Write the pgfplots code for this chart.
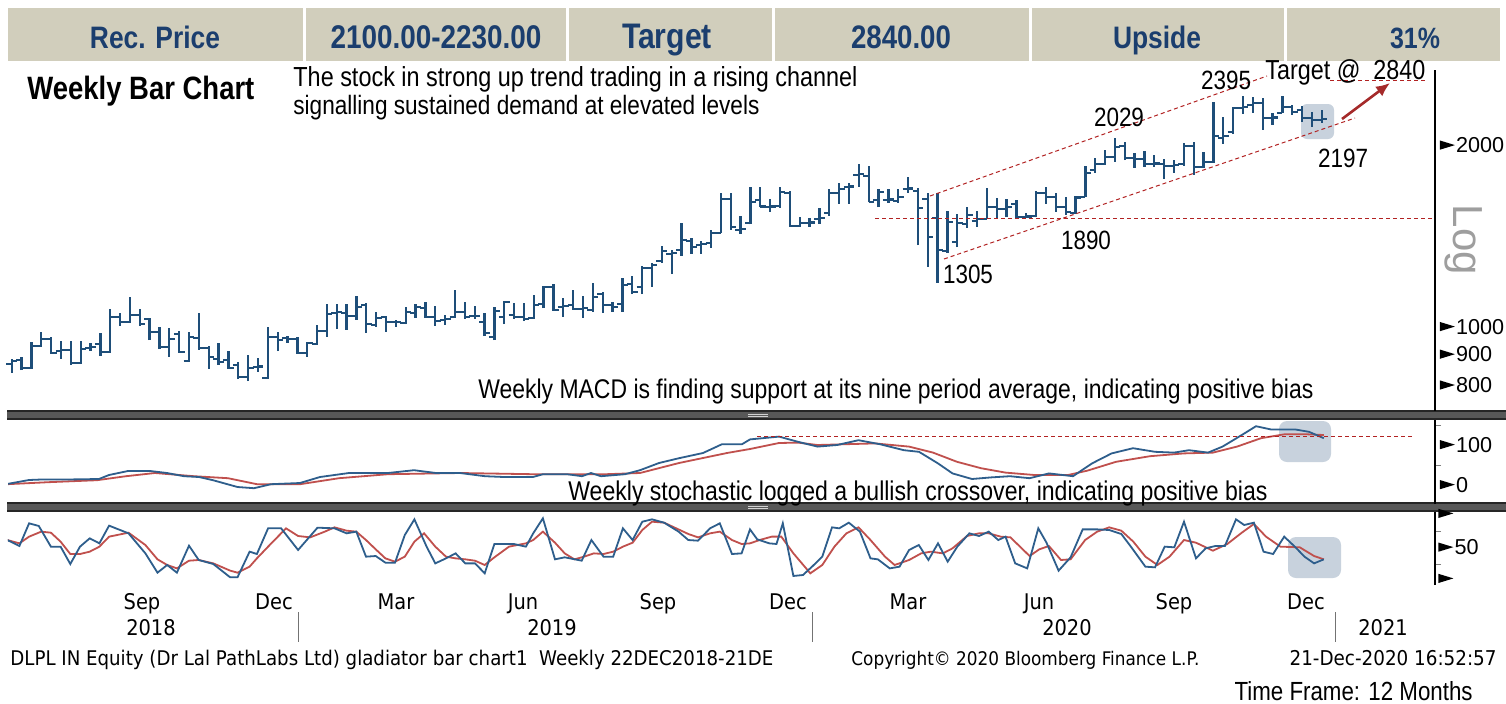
\documentclass[border=0pt]{standalone}
\usepackage{pgfplots}
\pgfplotsset{compat=1.18}
\usepackage{pgfplotstable}
\usetikzlibrary{arrows.meta}
\usepackage{graphicx}
\usepackage{fontspec}
\setmainfont{Liberation Sans}
\newfontfamily\narrow{Liberation Sans}[FakeStretch=0.85]
\newfontfamily\tah{DejaVu Sans}[FakeStretch=0.9]
\newdimen\pxu \pxu=0.5pt
\newcommand\rs[2]{\resizebox{#1\pxu}{!}{#2}}
\definecolor{hdrfill}{RGB}{209,206,188}
\definecolor{hdrtext}{RGB}{27,62,110}
\definecolor{barblue}{RGB}{30,78,121}
\definecolor{lineblue}{RGB}{46,94,140}
\definecolor{linered}{RGB}{192,80,77}
\definecolor{annred}{RGB}{178,34,34}
\definecolor{arrred}{RGB}{165,42,42}
\definecolor{boxshade}{RGB}{200,210,221}
\definecolor{sepgray}{RGB}{88,88,88}
\newcommand\tri{\tikz[baseline=0pt]\fill[black] (0,1.6pt)--(0,6.2pt)--(7.5pt,3.9pt)--cycle;\hspace{0.6pt}}
\pgfdeclareplotmark{nomark}{}
\pgfdeclareplotmark{otick}{\pgfpathmoveto{\pgfqpoint{-\pgfplotmarksize}{0pt}}\pgfpathlineto{\pgfqpoint{0pt}{0pt}}\pgfusepathqstroke}
\pgfdeclareplotmark{ctick}{\pgfpathmoveto{\pgfqpoint{0pt}{0pt}}\pgfpathlineto{\pgfqpoint{\pgfplotmarksize}{0pt}}\pgfusepathqstroke}
\pgfplotsset{panel/.style={anchor=north west, scale only axis, width=713.5pt, xmin=8, xmax=1435,
  axis x line=none, axis y line*=right, y axis line style={line width=0.75pt},
  major y tick style={draw=none}, minor tick length=3pt, tick align=outside,
  yticklabel style={anchor=west, inner sep=0pt, xshift=-2pt, font=\fontsize{10.8}{12}\selectfont}}}
\pgfplotstableread{
i o h l c
0 868 885 839 878
1 882 892 848 855
2 855 944 852 931
3 931 981 927 955
4 955 963 902 906
5 912 948 885 916
6 916 948 865 871
7 871 948 868 919
8 923 941 912 927
9 938 978 895 909
10 909 1071 906 1039
11 1039 1055 1004 1019
12 1019 1121 1015 1047
13 1047 1071 1004 1011
14 1031 1035 951 981
15 981 1000 919 927
16 927 996 892 955
17 974 985 906 909
18 878 981 875 963
19 959 1055 916 923
20 923 930 852 892
21 885 941 865 875
22 882 912 852 855
23 865 875 819 826
24 826 899 813 855
25 858 888 842 860
26 822 1000 820 963
27 963 981 912 951
28 959 966 941 955
29 955 963 902 906
30 906 944 892 941
31 938 1008 934 985
32 985 1091 963 1051
33 1055 1091 992 1059
34 1055 1091 989 1043
35 1043 1125 1027 1079
36 1087 1095 978 1011
37 1008 1059 1000 1035
38 1039 1043 981 1019
39 1019 1027 1000 1019
40 1015 1079 1011 1059
41 1055 1091 1035 1079
42 1075 1100 1035 1039
43 1039 1083 1004 1023
44 1027 1047 1008 1031
45 1039 1152 1035 1059
46 1059 1100 1031 1039
47 1043 1083 1031 1043
48 1019 1055 966 978
49 963 1079 951 1063
50 1039 1104 1011 1100
51 1047 1096 1031 1039
52 1039 1096 1023 1031
53 1035 1130 1032 1087
54 1091 1169 1075 1165
55 1165 1177 1063 1067
56 1079 1117 1039 1083
57 1087 1152 1068 1071
58 1071 1125 1035 1075
59 1067 1183 1059 1121
60 1134 1142 1055 1087
61 1087 1100 1059 1079
62 1091 1206 1059 1174
63 1177 1215 1134 1143
64 1165 1263 1134 1253
65 1253 1277 1165 1268
66 1287 1362 1277 1337
67 1322 1340 1224 1325
68 1342 1487 1312 1394
69 1389 1405 1322 1357
70 1367 1389 1322 1373
71 1378 1449 1352 1433
72 1433 1668 1430 1631
73 1631 1668 1449 1465
74 1449 1528 1427 1454
75 1487 1707 1480 1612
76 1624 1707 1581 1584
77 1581 1631 1552 1584
78 1587 1707 1578 1675
79 1668 1680 1465 1471
80 1471 1522 1465 1487
81 1487 1517 1465 1490
82 1511 1575 1483 1517
83 1546 1694 1528 1668
84 1668 1733 1600 1694
85 1707 1733 1600 1710
86 1788 1864 1707 1792
87 1781 1850 1609 1612
88 1624 1694 1581 1675
89 1624 1694 1606 1627
90 1618 1694 1606 1643
91 1694 1774 1668 1697
92 1681 1700 1367 1575
93 1631 1668 1258 1410
94 1517 1668 1183 1342
95 1337 1558 1327 1494
96 1384 1540 1357 1487
97 1483 1581 1460 1534
98 1500 1558 1465 1511
99 1511 1701 1508 1581
100 1581 1637 1511 1569
101 1569 1631 1522 1581
102 1600 1624 1511 1522
103 1522 1546 1515 1525
104 1528 1681 1520 1668
105 1668 1707 1600 1643
106 1643 1668 1552 1581
107 1581 1643 1534 1552
108 1546 1646 1540 1640
109 1643 1850 1640 1801
110 1822 1907 1801 1864
111 1864 1966 1857 1914
112 1914 2058 1878 1989
113 1997 2027 1892 1907
114 1907 1944 1836 1900
115 1900 1958 1843 1864
116 1864 1929 1843 1867
117 1864 1900 1760 1850
118 1850 1892 1801 1857
119 1864 2019 1850 1997
120 1997 2027 1788 1843
121 1843 1951 1836 1878
122 1878 2362 1871 2074
123 2058 2230 2012 2074
124 2106 2317 2090 2308
125 2308 2417 2256 2317
126 2335 2408 2265 2353
127 2353 2399 2122 2221
128 2221 2265 2163 2224
129 2265 2417 2260 2317
130 2317 2335 2247 2273
131 2290 2326 2188 2221
132 2221 2273 2147 2205
133 2205 2290 2180 2213
}\bars
\begin{document}
\begin{tikzpicture}
\begin{scope}[x=0.5pt,y=-0.5pt]
\path[use as bounding box] (0,0) rectangle (1506,703);
\fill[white] (0,0) rectangle (1506,703);
\foreach \a/\b in {8/303,306/566,569/772,775/1029,1032/1284,1287/1500}{\fill[hdrfill] (\a,8) rectangle (\b,61);}
\fill[boxshade, rounded corners=3pt] (1301,104) rectangle (1334,139);
\fill[boxshade, rounded corners=4pt] (1279,421) rectangle (1331,462);
\fill[boxshade, rounded corners=4pt] (1288,537) rectangle (1341,578);
\foreach \yy in {411,503}{
  \fill[sepgray] (7,\yy) rectangle (1506,\yy+8);
  \draw[black!85, line width=0.6pt] (7,\yy) -- (1506,\yy);
  \draw[black!85, line width=0.6pt] (7,\yy+8) -- (1506,\yy+8);
  \draw[gray!35, line width=0.4pt] (748,\yy+3) -- (768,\yy+3) (748,\yy+5) -- (768,\yy+5);
}
\end{scope}

% main price panel
\begin{axis}[panel, at={(4pt,-35pt)}, height=170.5pt, ymode=log, ymin=725.6, ymax=2668,
  ytick={800,900,1000,2000}, yticklabels={\tri800,\tri900,\tri1000,\tri2000}]
\addplot[barblue, line width=1.15pt, only marks, mark=nomark,
  error bars/.cd, y dir=plus, y explicit, error mark=none,
  error bar style={line width=1.15pt, barblue}]
  table[x expr={11.7+9.85*\thisrow{i}}, y=l, y error expr={\thisrow{h}-\thisrow{l}}] {\bars};
\addplot[barblue, line width=1.15pt, only marks, mark=otick, mark size=2.7pt]
  table[x expr={11.7+9.85*\thisrow{i}}, y=o] {\bars};
\addplot[barblue, line width=1.15pt, only marks, mark=ctick, mark size=2.7pt]
  table[x expr={11.7+9.85*\thisrow{i}}, y=c] {\bars};
\end{axis}

% MACD panel
\begin{axis}[panel, at={(4pt,-210pt)}, height=42pt, ymin=-47.5, ymax=162.5,
  ytick={0,100}, yticklabels={\tri0,\tri100}, minor ytick={50,150}]
\addplot[linered, line width=0.9pt] coordinates {(7,2)(48,7)(97,12)(126,22)(155,30)(194,22)(228,17)(257,2)(300,2)(339,17)(388,27)(460,30)(533,27)(606,27)(640,30)(679,55)(727,80)(750,90)(779,105)(798,106)(817.5,100)(846,102)(875,104)(909,96)(933,81)(957,58)(981,42)(1005.5,31)(1034.5,25)(1068,25)(1087.5,36)(1116,58)(1150,72)(1184,79)(1213,81)(1237,96)(1261,117)(1285,127)(1304.5,127)(1323.8,125)};
\addplot[lineblue, line width=0.9pt] coordinates {(7,2.5)(29,12.5)(44,14)(73,14)(99,15)(109,25)(128,35)(150,35)(167,30)(184,22)(199,20)(213,12)(237.5,-5)(254,-8)(271,2)(300,5)(320,20)(349,30)(388,30)(414,37)(436,30)(460,30)(485,22)(504,20)(533,20)(543,27)(567,27)(582,22)(591,30)(601,22)(625,27)(640,37)(659,55)(679,67)(703,80)(722,102)(742,102)(750,114)(779,121)(798,108)(817.5,96)(837,100)(858.5,112)(880,102)(904,87)(919,83)(938,54)(952.5,29)(972,15)(991,19)(1010,22)(1029.6,17)(1049,29)(1073,22)(1092,54)(1111.6,79)(1133,92)(1155,83)(1174,81)(1189,87)(1208,81)(1222.5,96)(1241.8,125)(1256,147)(1270.7,139)(1294.8,139)(1309,133)(1323.8,117)};
\end{axis}

% stochastic panel
\begin{axis}[panel, at={(4pt,-256pt)}, height=36.5pt, ymin=-7.69, ymax=104.6,
  axis x line*=bottom, x axis line style={line width=0.75pt},
  xtick={30,80,120,170,208,250,298,337,378,427,465,504,555,594,633,683,722,762,810,851,890,940,980,1030,1068,1109,1155,1196,1237,1285,1336,1374,1413},
  xticklabels={}, major x tick style={black, line width=0.5pt}, major tick length=3.5pt,
  ytick={0,50,100}, yticklabels={\tri,\tri50,\tri}, minor ytick={25,75}]
\addplot[linered, line width=0.9pt] coordinates {(7.3,61.5)(19.4,56.4)(29.1,66.7)(41.2,74.4)(50.9,72.8)(60.6,59)(70.3,40)(80,40)(89.7,43.6)(99.4,51.3)(109.1,66.7)(128.5,72.8)(145.4,53.8)(157.5,31.8)(167.2,23.1)(176.9,17.9)(189,29.7)(198.7,30.8)(213.3,25.6)(230.2,14.4)(237.5,11.3)(249.6,20.5)(256.9,33.3)(268.1,51.3)(286,79.5)(298.1,67.7)(310.2,65.6)(324.8,74.4)(334.5,81)(346.6,75.9)(356.3,74.4)(366,61.5)(375.7,47.2)(385.4,33.3)(395,28.2)(404.8,35.9)(414.4,59)(424.1,71.8)(435.3,51.3)(446,35.9)(455.6,33.3)(465.3,31.8)(475,29.7)(484.7,23.1)(494.4,34.9)(509,51.3)(525.9,56.4)(533.2,61.5)(542.9,74.4)(555,57.4)(564.7,41)(574.4,31.8)(584.1,35.9)(593.8,41)(603.5,40)(613.2,43.6)(622.9,51.3)(632.6,57.4)(642.3,76.9)(652,89.7)(664.1,88.2)(676.2,79.5)(688.3,70.8)(698,65.6)(710.1,71.8)(719.8,74.4)(732,61.5)(741.6,55.4)(750,56.4)(759.6,61.5)(771.7,66.7)(781.3,66.7)(793.4,41)(810.3,10.3)(822.3,23.1)(834.4,51.3)(846.4,71.8)(858.5,81)(870.5,61.5)(885,35.9)(894.6,23.1)(909.1,30.8)(921.2,41)(930.8,43.6)(942.9,41)(952.5,48.7)(967,67.7)(979,71.8)(988.7,71.8)(1000.7,66.7)(1010.4,65.6)(1020,51.3)(1029.6,36.9)(1039.3,47.2)(1048.9,52.3)(1061,30.8)(1070.6,31.8)(1085.1,61.5)(1097.2,74.4)(1109.2,81)(1121.3,75.9)(1133.3,59)(1145.4,35.9)(1157.4,23.1)(1169.5,35.9)(1184,61.5)(1196,57.4)(1212.9,45.1)(1227.3,55.4)(1241.8,72.8)(1253.9,86.2)(1266,66.7)(1280.4,51.3)(1299.7,50.3)(1314.1,36.9)(1323.8,31.8)};
\addplot[lineblue, line width=0.9pt] coordinates {(7.3,61.5)(19.4,52.3)(29.1,87.2)(38.8,83.1)(50.9,51.3)(60.6,51.3)(70.3,24.6)(80,51.3)(89.7,64.1)(99.4,56.4)(109.1,83.6)(128.5,71.8)(145.4,41)(157.5,11.3)(167.2,23.1)(176.9,11.3)(189,52.8)(198.7,30.8)(213.3,24.6)(230.2,4.1)(237.5,4.1)(249.6,43.6)(256.9,40)(268.1,79.5)(281.1,79.5)(298.1,46.2)(317.5,80.5)(334.5,79.5)(346.6,71.8)(356.3,74.4)(366,35.9)(375.7,36.9)(385.4,26.7)(395,26.7)(404.8,69.2)(414.4,93.3)(426.6,51.3)(435.3,25.6)(446,33.3)(455.6,41)(465.3,25.6)(475,25.6)(484.7,10.3)(494.4,55.4)(513.8,55.4)(525.9,51.3)(533.2,71.8)(542.9,94.9)(555,31.8)(564.7,34.9)(581.7,29.7)(591.4,61.5)(603.5,35.9)(613.2,35.9)(622.9,79.5)(632.6,61.5)(642.3,89.7)(652,93.3)(664.1,88.2)(678.6,74.4)(688.3,61.5)(698,60.5)(710.1,79.5)(719.8,87.2)(732,40)(741.6,41)(750,77.9)(757.2,62.6)(769.3,56.4)(776.5,55.4)(782.8,87.2)(793.4,6.2)(803,7.7)(812.7,21.5)(822.3,35.9)(832,81)(839.2,79.5)(848.8,88.2)(859.9,74.4)(870.5,33.3)(877.8,31.8)(889.8,17.9)(899.5,20.5)(909.1,46.2)(918.8,53.8)(928.4,30.8)(938,56.4)(947.7,28.2)(957.3,51.3)(969.4,71.8)(979,67.7)(988.7,74.4)(998.3,61.5)(1005.5,66.7)(1015.2,25.6)(1027.2,17.9)(1038.3,79.5)(1046.5,57.4)(1058.6,14.4)(1070.6,34.9)(1082.7,77.9)(1097.2,77.9)(1109.2,76.9)(1121.3,70.8)(1130.9,51.3)(1145.4,20.5)(1155,19.5)(1164.7,51.3)(1174.3,50.3)(1184,89.7)(1196,33.3)(1205.6,48.7)(1215.3,52.3)(1224.9,52.3)(1236,93.3)(1244.2,84.6)(1253.9,88.2)(1263.5,43.6)(1273.1,40)(1284.2,66.7)(1294.8,51.3)(1304.5,35.9)(1314.1,25.6)(1323.8,31.8)};
\end{axis}

\begin{scope}[x=0.5pt,y=-0.5pt]
% header texts
\node[anchor=base, inner sep=0pt, text=hdrtext] at (155,48) {\rs{130}{\narrow\bfseries Rec. Price}};
\node[anchor=base, inner sep=0pt, text=hdrtext] at (436,48) {\rs{211}{\narrow\bfseries 2100.00-2230.00}};
\node[anchor=base, inner sep=0pt, text=hdrtext] at (667,48) {\rs{90}{\narrow\bfseries Target}};
\node[anchor=base, inner sep=0pt, text=hdrtext] at (901,48) {\rs{100}{\narrow\bfseries 2840.00}};
\node[anchor=base, inner sep=0pt, text=hdrtext] at (1157,48) {\rs{88}{\narrow\bfseries Upside}};
\node[anchor=base, inner sep=0pt, text=hdrtext] at (1415,48) {\rs{50}{\narrow\bfseries 31\%}};
% titles and comments
\node[anchor=base west, inner sep=0pt] at (27,99) {\rs{227}{\narrow\bfseries Weekly Bar Chart}};
\node[anchor=base west, inner sep=0pt] at (293,86) {\rs{564}{\narrow The stock in strong up trend trading in a rising channel}};
\node[anchor=base west, inner sep=0pt] at (293,114) {\rs{466}{\narrow signalling sustained demand at elevated levels}};
\node[anchor=base west, inner sep=0pt] at (478,398) {\rs{835}{\narrow Weekly MACD is finding support at its nine period average, indicating positive bias}};
\node[anchor=base west, inner sep=0pt] at (568,500) {\rs{699}{\narrow Weekly stochastic logged a bullish crossover, indicating positive bias}};
% channel annotations
\draw[annred, line width=0.5pt, dash pattern=on 2pt off 1.5pt] (930,196) -- (1267,76);
\draw[annred, line width=0.5pt, dash pattern=on 2pt off 1.5pt] (944,259) -- (1355,118);
\draw[annred, line width=0.5pt, dash pattern=on 2pt off 1.5pt] (875,218) -- (1432,218);
\draw[annred, line width=0.5pt, dash pattern=on 2pt off 1.5pt] (1330,80) -- (1428,80);
\draw[annred, line width=0.5pt, dash pattern=on 2pt off 1.5pt] (757,436) -- (1415,436);
\draw[arrred, line width=1.3pt, -{Latex[length=7pt,width=6pt]}] (1342,119) -- (1390,83);
\node[anchor=center, inner sep=0pt] at (1226,80) {\rs{50}{\narrow 2395}};
\node[anchor=center, inner sep=0pt] at (1119,117) {\rs{50}{\narrow 2029}};
\node[anchor=center, inner sep=0pt] at (1343,158) {\rs{50}{\narrow 2197}};
\node[anchor=center, inner sep=0pt] at (1086,240) {\rs{50}{\narrow 1890}};
\node[anchor=center, inner sep=0pt] at (968,274) {\rs{50}{\narrow 1305}};
\node[anchor=base west, inner sep=0pt] at (1265,79) {\rs{160}{\narrow Target @~~2840}};
\node[rotate=-90, text=black!38, inner sep=0pt] at (1464,240) {\fontsize{21}{21}\selectfont Log};
% time axis labels
\foreach \xx/\mm in {142/Sep,274/Dec,396/Mar,523/Jun,658/Sep,788/Dec,908/Mar,1039/Jun,1174/Sep,1306/Dec}{
  \node[anchor=base, inner sep=0pt] at (\xx,609) {\tah\fontsize{10.8}{12}\selectfont \mm};}
\foreach \xx/\yr in {151/2018,552/2019,1067/2020,1383/2021}{
  \node[anchor=base, inner sep=0pt] at (\xx,635) {\tah\fontsize{10.8}{12}\selectfont \yr};}
\foreach \xx in {298,812,1335}{\draw[black!55, line width=0.5pt] (\xx,612) -- (\xx,642);}
% footer
\node[anchor=base west, inner sep=0pt] at (10,665) {\rs{763}{\tah DLPL IN Equity (Dr Lal PathLabs Ltd) gladiator bar chart1\ \ Weekly 22DEC2018-21DE}};
\node[anchor=base west, inner sep=0pt] at (851,665) {\rs{348}{\tah Copyright© 2020 Bloomberg Finance L.P.}};
\node[anchor=base east, inner sep=0pt] at (1497,665) {\rs{207}{\tah 21-Dec-2020 16:52:57}};
\node[anchor=base east, inner sep=0pt] at (1473,700) {\rs{238}{\narrow Time Frame: 12 Months}};
\end{scope}
\end{tikzpicture}
\end{document}
